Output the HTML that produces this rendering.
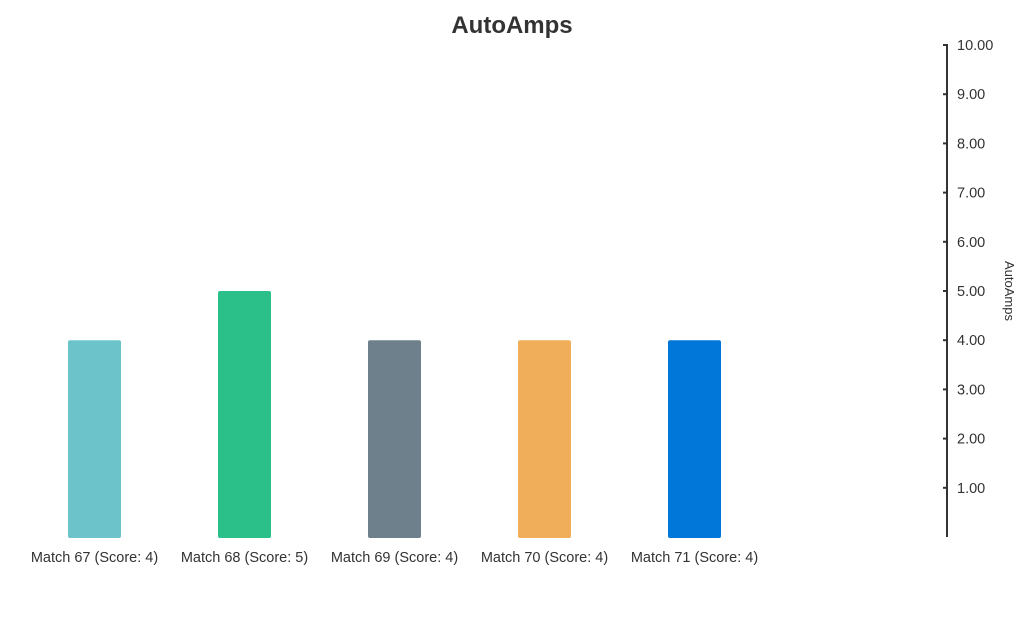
<!DOCTYPE html>
<html><head><meta charset="utf-8"><style>
body{margin:0;background:#fff;width:1024px;height:612px;overflow:hidden;font-family:"Liberation Sans",sans-serif}
</style></head><body>
<svg id="chart" width="1024" height="612">
<text x="512" y="33" text-anchor="middle" font-size="24" font-weight="bold" fill="#333">AutoAmps</text>
<line x1="947" y1="44" x2="947" y2="537" stroke="#333" stroke-width="2"/>
<text transform="translate(1005,291) rotate(90)" text-anchor="middle" font-size="13" fill="#333">AutoAmps</text>
<g id="ticks"></g><g id="bars"></g>
</svg>
<script>
const categories=["Match 67 (Score: 4)","Match 68 (Score: 5)","Match 69 (Score: 4)","Match 70 (Score: 4)","Match 71 (Score: 4)"];
const values=[4,5,4,4,4];
const colors=["#6cc3ca","#2bc08a","#6e808b","#f0ad5a","#0077d9"];
const tickValues=[1,2,3,4,5,6,7,8,9,10];
const NS="http://www.w3.org/2000/svg";
const y0=537,pxPer=49.2;
function y(v){return y0-v*pxPer;}
function x(i){return 68+i*150;}
const bw=53;
const tg=document.getElementById('ticks');
tickValues.forEach(t=>{
 const l=document.createElementNS(NS,'line');
 l.setAttribute('x1',943);l.setAttribute('x2',947);l.setAttribute('y1',y(t));l.setAttribute('y2',y(t));
 l.setAttribute('stroke','#333');l.setAttribute('stroke-width','2');
 
 
 tg.appendChild(l);
 const tx=document.createElementNS(NS,'text');
 tx.setAttribute('x',957);tx.setAttribute('y',y(t)+5);tx.setAttribute('font-size','14.5');tx.setAttribute('fill','#333');
 tx.textContent=t.toFixed(2);
 
 
 tg.appendChild(tx);
});
const bg=document.getElementById('bars');
categories.forEach((c,i)=>{
 const r=document.createElementNS(NS,'rect');
 r.setAttribute('x',x(i));r.setAttribute('y',y(values[i]));r.setAttribute('width',bw);r.setAttribute('height',y0-y(values[i])+1);
 r.setAttribute('rx','2');r.setAttribute('fill',colors[i]);
 
 
 bg.appendChild(r);
 const t=document.createElementNS(NS,'text');
 t.setAttribute('x',x(i)+bw/2);t.setAttribute('y',562);t.setAttribute('text-anchor','middle');t.setAttribute('font-size','14.5');t.setAttribute('fill','#333');
 t.textContent=c;
 
 
 bg.appendChild(t);
});
</script>
</body></html>
